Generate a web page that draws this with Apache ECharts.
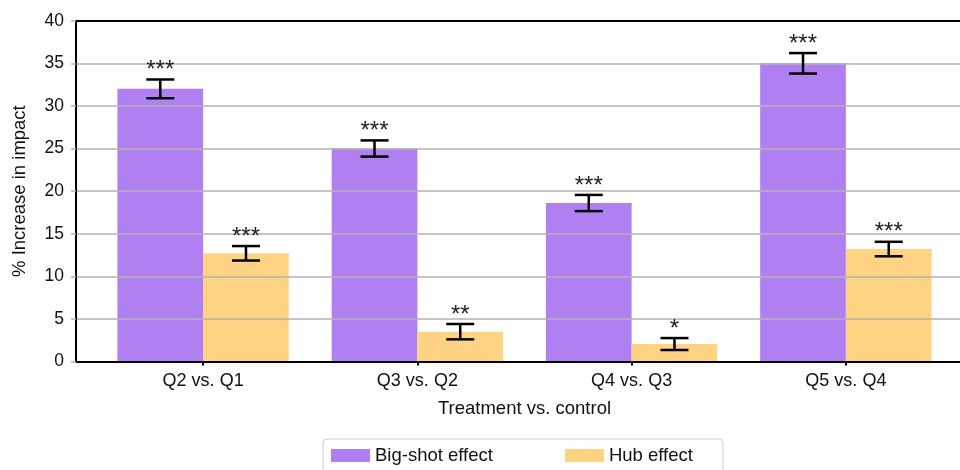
<!DOCTYPE html>
<html>
<head>
<meta charset="utf-8">
<script src="https://cdn.jsdelivr.net/npm/echarts@6/dist/echarts.min.js"></script>
<style>html,body{margin:0;padding:0;background:#fff;}#c{width:960px;height:470px;}</style>
</head>
<body>
<div id="c"></div>
<script>
var categories = ['Q2 vs. Q1', 'Q3 vs. Q2', 'Q4 vs. Q3', 'Q5 vs. Q4'];
var bigShot = [32, 25, 18.6, 35];
var hub = [12.7, 3.5, 2.05, 13.2];
var bigShotErr = [1.1, 0.95, 0.95, 1.2];
var hubErr = [0.85, 0.9, 0.7, 0.85];
var bigShotSig = ['***', '***', '***', '***'];
var hubSig = ['***', '**', '*', '***'];
var yTicks = { min: 0, max: 40, interval: 5 };

var FONT = 'Liberation Sans, Arial, Helvetica, sans-serif';
var chart = echarts.init(document.getElementById('c'));

function errData(vals, errs) {
  return vals.map(function (v, i) { return [i, v, errs[i]]; });
}
function errRenderer(sign, sigs) {
  return function (params, api) {
    var i = api.value(0), v = api.value(1), e = api.value(2);
    var band = api.size([1, 0])[0];
    var cx = api.coord([i, v])[0] + sign * band * 0.2;
    var yt = api.coord([i, v + e])[1];
    var yb = api.coord([i, v - e])[1];
    var hw = 14;
    var ls = { stroke: '#000', lineWidth: 2.5 };
    return {
      type: 'group',
      children: [
        { type: 'line', shape: { x1: cx, y1: yt, x2: cx, y2: yb }, style: ls },
        { type: 'line', shape: { x1: cx - hw, y1: yt, x2: cx + hw, y2: yt }, style: ls },
        { type: 'line', shape: { x1: cx - hw, y1: yb, x2: cx + hw, y2: yb }, style: ls },
        { type: 'text', style: { text: sigs[params.dataIndex], x: cx, y: yt - 9, align: 'center', verticalAlign: 'middle', fontSize: 24, fill: '#222', fontFamily: FONT } }
      ]
    };
  };
}

var frameAxis = {
  type: 'value', min: 0, max: 1, z: 5,
  axisLine: { show: true, lineStyle: { color: '#000', width: 2 } },
  axisTick: { show: false }, axisLabel: { show: false }, splitLine: { show: false }
};

var option = {
  animation: false,
  textStyle: { fontFamily: FONT },
  grid: [
    { left: 76, right: 0, top: 20.7, bottom: 108.5 },
    { left: 96, right: 7, top: 20.7, bottom: 108.5 }
  ],
  legend: {
    left: 323, top: 439,
    itemWidth: 39, itemHeight: 13, itemGap: 72,
    padding: [7, 30, 14, 8],
    borderColor: '#ccc', borderWidth: 1, borderRadius: 4,
    icon: 'rect',
    textStyle: { fontSize: 18.5, color: '#111' },
    data: ['Big-shot effect', 'Hub effect']
  },
  xAxis: [
    Object.assign({ gridIndex: 0, position: 'bottom' }, frameAxis),
    Object.assign({ gridIndex: 0, position: 'top' }, frameAxis),
    {
      gridIndex: 1, type: 'category', data: categories,
      axisLine: { show: false },
      axisTick: { show: true, alignWithLabel: true, length: 4, lineStyle: { color: '#000', width: 2 } },
      axisLabel: { fontSize: 18, color: '#111', margin: 11 },
      name: 'Treatment vs. control', nameLocation: 'middle', nameGap: 38,
      nameTextStyle: { fontSize: 18.5, color: '#111' }
    }
  ],
  yAxis: [
    {
      gridIndex: 0, type: 'value', min: yTicks.min, max: yTicks.max, interval: yTicks.interval, z: 5,
      axisLine: { show: true, lineStyle: { color: '#000', width: 2 } },
      axisTick: { show: true, length: 5, lineStyle: { color: '#b3b3b3', width: 1.5 } },
      splitLine: { show: true, lineStyle: { color: '#b3b3b3', width: 1.5 } },
      axisLabel: { fontSize: 17.5, color: '#111', margin: 12 },
      name: '% Increase in impact', nameLocation: 'middle', nameGap: 46.5,
      nameTextStyle: { fontSize: 18.5, color: '#111' }
    },
    { gridIndex: 1, type: 'value', min: yTicks.min, max: yTicks.max, show: false, splitLine: { show: false } }
  ],
  series: [
    { name: 'Big-shot effect', type: 'bar', xAxisIndex: 2, yAxisIndex: 1, data: bigShot, barGap: '0%', barCategoryGap: '20%', itemStyle: { color: '#b07ff2' }, z: 2 },
    { name: 'Hub effect', type: 'bar', xAxisIndex: 2, yAxisIndex: 1, data: hub, barGap: '0%', barCategoryGap: '20%', itemStyle: { color: '#fed484' }, z: 2 },
    { type: 'custom', xAxisIndex: 2, yAxisIndex: 1, data: errData(bigShot, bigShotErr), renderItem: errRenderer(-1, bigShotSig), encode: { x: 0, y: 1 }, z: 10 },
    { type: 'custom', xAxisIndex: 2, yAxisIndex: 1, data: errData(hub, hubErr), renderItem: errRenderer(1, hubSig), encode: { x: 0, y: 1 }, z: 10 }
  ]
};
chart.setOption(option);
</script>
</body>
</html>
